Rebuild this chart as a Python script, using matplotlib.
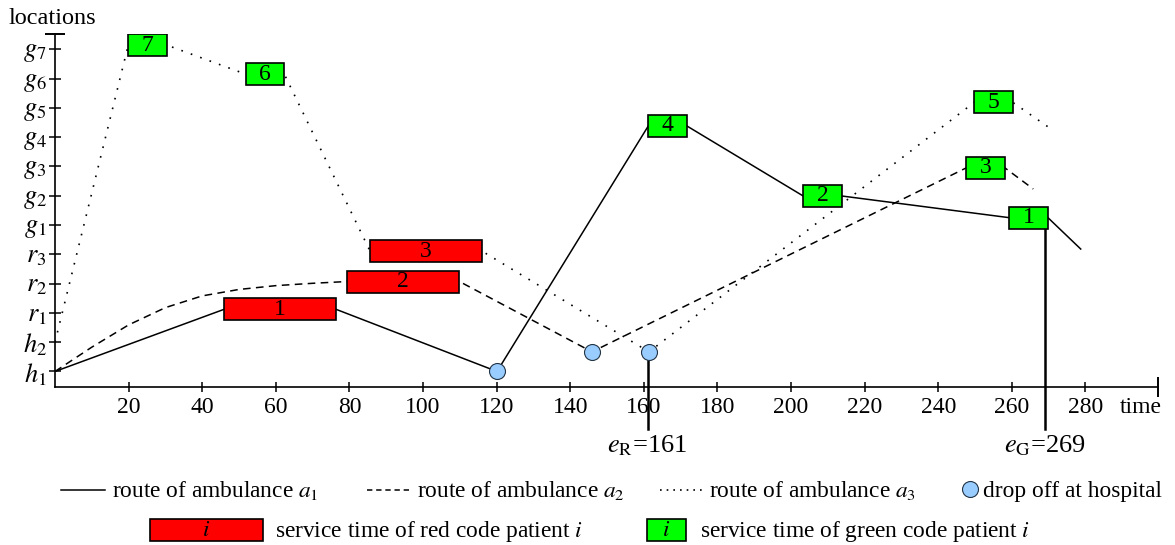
import matplotlib
matplotlib.use('Agg')
import matplotlib.pyplot as plt
from matplotlib.patches import Rectangle

plt.rcParams['font.family'] = 'serif'
plt.rcParams['font.serif'] = ['Liberation Serif', 'DejaVu Serif']
plt.rcParams['mathtext.fontset'] = 'stix'
plt.rcParams['font.size'] = 16

# location levels (y axis), 1 = h1 ... 12 = g7
level_labels = ['$h_1$', '$h_2$', '$r_1$', '$r_2$', '$r_3$',
                '$g_1$', '$g_2$', '$g_3$', '$g_4$', '$g_5$', '$g_6$', '$g_7$']
time_ticks = list(range(20, 281, 20))

# red code service intervals
red_id = [1, 2, 3]
red_start = [45.9, 79.3, 85.6]
red_end = [76.4, 109.9, 116.0]
red_loc = [3.12, 4.07, 5.11]

# green code service intervals
green_id = [7, 6, 4, 2, 1, 5, 3]
green_start = [19.9, 51.8, 161.2, 203.3, 259.3, 249.8, 247.6]
green_end = [30.4, 62.3, 171.7, 213.8, 269.8, 260.2, 258.1]
green_loc = [12.14, 11.15, 9.38, 6.99, 6.25, 10.19, 7.95]

# drop offs at hospital
drop_t = [120.1, 145.9, 161.4]
drop_loc = [1.0, 1.67, 1.67]

# routes
a1_t = [0, 45.9, 76.4, 120.1, 161.2, 171.7, 203.3, 213.8, 259.3, 269.8, 278.7]
a1_loc = [1, 3.12, 3.12, 1.0, 9.38, 9.38, 6.99, 6.99, 6.25, 6.25, 5.18]

a2_t = [0, 10, 20, 30, 40, 50, 60, 70, 79.3, 109.9, 145.9, 247.6, 258.1, 265.8]
a2_loc = [1, 1.83, 2.59, 3.18, 3.58, 3.80, 3.93, 4.01, 4.07, 4.07, 1.67, 7.95, 7.95, 7.23]

a3_t = [0, 19.9, 30.4, 51.8, 62.3, 85.6, 116.0, 161.4, 249.8, 260.2, 270.4]
a3_loc = [2, 12.14, 12.14, 11.15, 11.15, 5.11, 5.11, 1.67, 10.19, 10.19, 9.3]

e_R = 161
e_G = 269

box_h = 0.75
red_col = '#ff0000'
green_col = '#00ff00'
drop_col = '#99ccff'

fig = plt.figure(figsize=(11.75, 5.45), dpi=100)
ax = fig.add_axes([55 / 1175, 1 - 387 / 545, 1103 / 1175, 353 / 545])

ax.plot(a1_t, a1_loc, color='black', lw=1.1, zorder=2)
ax.plot(a2_t, a2_loc, color='black', lw=1.1, ls=(0, (5, 3.5)), zorder=2)
ax.plot(a3_t, a3_loc, color='black', lw=1.2, ls=(0, (1, 5)), zorder=2)

# end of service lines
ax.plot([e_R, e_R], [drop_loc[2], -0.96], color='black', lw=1.8, clip_on=False, zorder=3)
ax.plot([e_G, e_G], [green_loc[4], -0.96], color='black', lw=1.8, clip_on=False, zorder=3)
ax.text(e_R, -1.52, r'$e_\mathrm{R}$=161', ha='center', va='center', fontsize=19)
ax.text(e_G, -1.52, r'$e_\mathrm{G}$=269', ha='center', va='center', fontsize=19)

for i, s, e, y in zip(red_id, red_start, red_end, red_loc):
    ax.add_patch(Rectangle((s, y - box_h / 2), e - s, box_h, facecolor=red_col,
                           edgecolor='black', lw=1.2, zorder=4))
    ax.text((s + e) / 2, y, str(i), ha='center', va='center', fontsize=17, zorder=5)

for i, s, e, y in zip(green_id, green_start, green_end, green_loc):
    ax.add_patch(Rectangle((s, y - box_h / 2), e - s, box_h, facecolor=green_col,
                           edgecolor='black', lw=1.2, zorder=4))
    ax.text((s + e) / 2, y, str(i), ha='center', va='center', fontsize=17, zorder=5)

ax.plot(drop_t, drop_loc, 'o', ms=11.5, mfc=drop_col, mec='#223344', mew=0.8,
        ls='none', zorder=6)

ax.set_xlim(0, 299.7)
ax.set_ylim(0.47, 12.52)
ax.set_xticks(time_ticks)
ax.set_yticks(range(1, 13))
ax.set_yticklabels(level_labels, fontsize=19)
ax.tick_params(axis='x', direction='inout', length=7, width=1.1, pad=4, labelsize=17)
ax.tick_params(axis='y', direction='inout', length=8, width=1.1, pad=2)
for side in ['top', 'right']:
    ax.spines[side].set_visible(False)
for side in ['left', 'bottom']:
    ax.spines[side].set_linewidth(1.2)
ax.plot([0], [1], marker='_', ms=14, mew=1.4, color='black',
        transform=ax.transAxes, clip_on=False)
ax.plot([1], [0], marker='|', ms=14, mew=1.4, color='black',
        transform=ax.transAxes, clip_on=False)
ax.text(0.984, -0.058, 'time', transform=ax.transAxes, ha='center', va='center', fontsize=17)
fig.text(52 / 1175, 1 - 19 / 545, 'locations', ha='center', va='center', fontsize=17.5)

# legend drawn in pixel coordinates
lax = fig.add_axes([0, 0, 1, 1], zorder=-1)
lax.set_xlim(0, 1175)
lax.set_ylim(545, 0)
lax.axis('off')
r1, r2 = 490, 530
fs = 16.8
lax.plot([61, 105], [r1, r1], color='black', lw=1.1)
lax.text(112, r1 + 7, 'route of ambulance $a_1$', va='baseline', fontsize=fs)
lax.plot([367, 411], [r1, r1], color='black', lw=1.1, ls=(0, (3.5, 2.5)))
lax.text(417, r1 + 7, 'route of ambulance $a_2$', va='baseline', fontsize=fs)
lax.plot([660, 704], [r1, r1], color='black', lw=1.2, ls=(0, (1, 3)))
lax.text(709, r1 + 7, 'route of ambulance $a_3$', va='baseline', fontsize=fs)
lax.plot([970], [r1 - 1], 'o', ms=11.5, mfc=drop_col, mec='#223344', mew=0.8)
lax.text(983, r1 + 7, 'drop off at hospital', va='baseline', fontsize=fs)

lax.add_patch(Rectangle((150, r2 - 11), 113, 22, facecolor=red_col, edgecolor='black', lw=1.2))
lax.text(206.5, r2, '$i$', ha='center', va='center', fontsize=fs)
lax.text(275, r2 + 7, 'service time of red code patient $i$', va='baseline', fontsize=fs)
lax.add_patch(Rectangle((647, r2 - 11), 39, 22, facecolor=green_col, edgecolor='black', lw=1.2))
lax.text(666.5, r2, '$i$', ha='center', va='center', fontsize=fs)
lax.text(700, r2 + 7, 'service time of green code patient $i$', va='baseline', fontsize=fs)

fig.savefig('out.png', dpi=100)
